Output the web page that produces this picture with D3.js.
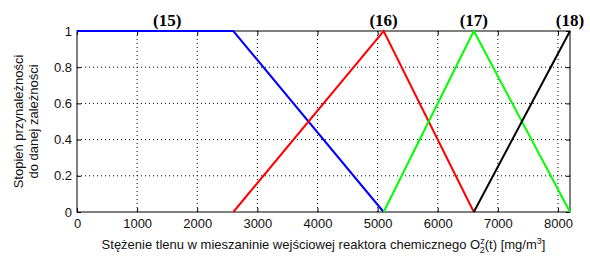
<!DOCTYPE html>
<html>
<head>
<meta charset="utf-8">
<script src="https://cdn.jsdelivr.net/npm/d3@7"></script>
<style>
  body { margin: 0; background: #fff; }
  svg { display: block; }
  .tick text { font-family: 'Liberation Sans', Arial, sans-serif; font-size: 13px; fill: #111; }
</style>
</head>
<body>
<div id="chart"></div>
<script>
const width = 590;
const height = 256;
const margin = { top: 31, right: 20, bottom: 44, left: 77 };

// membership functions: x breakpoints and degrees
const blueX = [0, 2600, 5100];
const blueY = [1, 1, 0];
const redX = [2600, 5100, 6600];
const redY = [0, 1, 0];
const greenX = [5100, 6600, 8200];
const greenY = [0, 1, 0];
const blackX = [6600, 8200];
const blackY = [0, 1];

const xTicks = [0, 1000, 2000, 3000, 4000, 5000, 6000, 7000, 8000];
const yTicks = [0, 0.2, 0.4, 0.6, 0.8, 1];
const peakLabels = ['(15)', '(16)', '(17)', '(18)'];
const peakX = [1500, 5100, 6600, 8200];

const series = [
  { xs: blueX, ys: blueY, color: '#0000ff' },
  { xs: redX, ys: redY, color: '#ff0000' },
  { xs: greenX, ys: greenY, color: '#00ff00' },
  { xs: blackX, ys: blackY, color: '#000000' },
];

const svg = d3.select('#chart').append('svg')
  .attr('width', width)
  .attr('height', height);

const x = d3.scaleLinear().domain([0, 8200]).range([margin.left, width - margin.right]);
const y = d3.scaleLinear().domain([0, 1]).range([height - margin.bottom, margin.top]);

// Dotted grid
const grid = svg.append('g');
grid.selectAll('.gx')
  .data(xTicks.filter((d) => d > 0))
  .enter()
  .append('line')
  .attr('x1', (d) => x(d)).attr('x2', (d) => x(d))
  .attr('y1', y(0)).attr('y2', y(1))
  .attr('stroke', '#000')
  .attr('stroke-width', 1)
  .attr('stroke-dasharray', '1,3');
grid.selectAll('.gy')
  .data(yTicks.filter((d) => d > 0 && d < 1))
  .enter()
  .append('line')
  .attr('x1', x(0)).attr('x2', x(8200))
  .attr('y1', (d) => y(d)).attr('y2', (d) => y(d))
  .attr('stroke', '#000')
  .attr('stroke-width', 1)
  .attr('stroke-dasharray', '1,3');

// Axes (ticks inward, matlab style)
svg.append('g')
  .attr('transform', `translate(0,${y(0)})`)
  .call(d3.axisBottom(x).tickValues(xTicks).tickFormat(d3.format('d')).tickSizeInner(-4).tickSizeOuter(0).tickPadding(7))
  .call((g) => g.select('.domain').remove());
svg.append('g')
  .attr('transform', `translate(${x(0)},0)`)
  .call(d3.axisLeft(y).tickValues(yTicks).tickFormat((d) => (d === 0 || d === 1 ? d : d.toFixed(1))).tickSizeInner(-4).tickSizeOuter(0).tickPadding(5))
  .call((g) => g.select('.domain').remove());
svg.append('g')
  .attr('transform', `translate(0,${y(1)})`)
  .call(d3.axisTop(x).tickValues(xTicks).tickFormat('').tickSizeInner(-4).tickSizeOuter(0))
  .call((g) => g.select('.domain').remove());
svg.append('g')
  .attr('transform', `translate(${x(8200)},0)`)
  .call(d3.axisRight(y).tickValues(yTicks).tickFormat('').tickSizeInner(-4).tickSizeOuter(0))
  .call((g) => g.select('.domain').remove());

// Box
svg.append('rect')
  .attr('x', x(0)).attr('y', y(1))
  .attr('width', x(8200) - x(0)).attr('height', y(0) - y(1))
  .attr('fill', 'none')
  .attr('stroke', '#000')
  .attr('stroke-width', 1);

// Lines
const line = d3.line().x((d) => x(d[0])).y((d) => y(d[1]));
svg.selectAll('.mf')
  .data(series)
  .enter()
  .append('path')
  .attr('d', (s) => line(d3.zip(s.xs, s.ys)))
  .attr('fill', 'none')
  .attr('stroke', (s) => s.color)
  .attr('stroke-width', 2);

// Peak labels
svg.selectAll('.peak')
  .data(peakLabels)
  .enter()
  .append('text')
  .attr('x', (d, i) => x(peakX[i]))
  .attr('y', 26)
  .attr('text-anchor', 'middle')
  .style('font-family', "'Liberation Serif', 'Times New Roman', serif")
  .style('font-size', '17px')
  .style('font-weight', 'bold')
  .text((d) => d);

// Y label
const yl = svg.append('text')
  .attr('transform', `translate(0,${(y(0) + y(1)) / 2}) rotate(-90)`)
  .attr('text-anchor', 'middle')
  .style('font-family', "'Liberation Sans', Arial, sans-serif")
  .style('font-size', '13px')
  .style('fill', '#111');
yl.append('tspan').attr('x', 0).attr('y', 23).text('Stopień przynależności');
yl.append('tspan').attr('x', 0).attr('y', 38).text('do danej zależności');

// X label
const xl = svg.append('text')
  .attr('x', (x(0) + x(8200)) / 2)
  .attr('y', 249)
  .attr('text-anchor', 'middle')
  .style('font-family', "'Liberation Sans', Arial, sans-serif")
  .style('font-size', '13px')
  .style('fill', '#111');
xl.append('tspan').text('Stężenie tlenu w mieszaninie wejściowej reaktora chemicznego O');
xl.append('tspan').attr('dy', -5).style('font-size', '9px').text('z');
xl.append('tspan').attr('dx', -5).attr('dy', 9).style('font-size', '9px').text('2');
xl.append('tspan').attr('dy', -4).text('(t) [mg/m');
xl.append('tspan').attr('dy', -5).style('font-size', '9px').text('3');
xl.append('tspan').attr('dy', 5).text(']');
</script>
</body>
</html>
